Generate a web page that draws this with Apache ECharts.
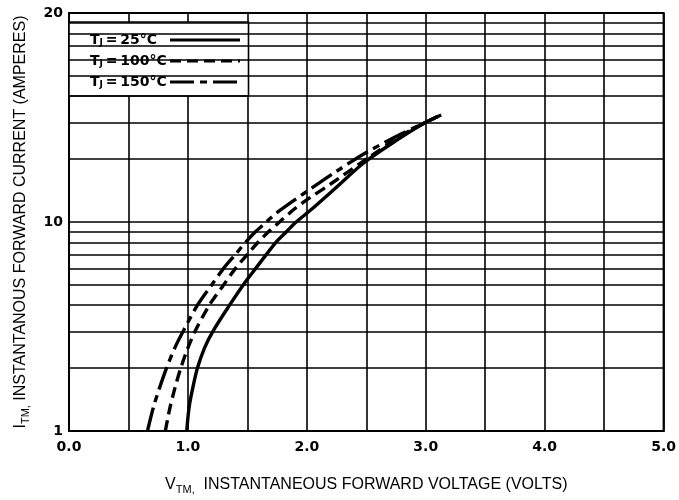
<!DOCTYPE html>
<html>
<head>
<meta charset="utf-8">
<script src="https://cdn.jsdelivr.net/npm/echarts@6/dist/echarts.min.js"></script>
<style>html,body{margin:0;padding:0;background:#fff}#c{width:679px;height:500px}</style>
</head>
<body>
<div id="c"></div>
<script>
// X tick labels (volts)
const xTickValues = [0, 1, 2, 3, 4, 5];
const xTickLabels = ['0.0', '1.0', '2.0', '3.0', '4.0', '5.0'];
// Y tick labels (amperes) as printed on the chart
const yTickValues = [1, 10, 100];
const yTickLabels = ['1', '10', '20'];
// minor log grid lines
const yMinorGrid = [2, 3, 4, 5, 6, 7, 8, 9, 20, 30, 40, 50, 60, 70, 80, 90];

// Series names
const seriesNames = ['{t|T}{s|J}{t|\u2009=\u200925°C}', '{t|T}{s|J}{t|\u2009=\u2009100°C}', '{t|T}{s|J}{t|\u2009=\u2009150°C}'];

// TJ = 25 C (solid)
const v25 = [0.99, 1.01, 1.04, 1.08, 1.14, 1.21, 1.35, 1.465, 1.57, 1.66, 1.74, 1.83, 1.91, 2.04, 2.24, 2.47, 2.75, 3.00, 3.13];
const i25 = [1, 1.3, 1.6, 2, 2.5, 3, 4, 5, 6, 7, 8, 9, 10, 11.5, 14.5, 19, 24.5, 30, 32.5];
// TJ = 100 C (dashed)
const v100 = [0.81, 0.85, 0.89, 0.94, 1.00, 1.06, 1.18, 1.30, 1.40, 1.50, 1.59, 1.68, 1.77, 1.90, 2.02, 2.20, 2.50, 2.80, 3.00, 3.10];
const i100 = [1, 1.3, 1.6, 2, 2.5, 3, 4, 5, 6, 7, 8, 9, 10, 11.6, 13.0, 15.2, 20, 26, 30, 32];
// TJ = 150 C (long-short dash)
const v150 = [0.66, 0.71, 0.76, 0.82, 0.89, 0.96, 1.08, 1.20, 1.30, 1.40, 1.485, 1.57, 1.66, 1.74, 2.00, 2.25, 2.50, 2.80, 3.00, 3.10];
const i150 = [1, 1.3, 1.6, 2, 2.5, 3, 4, 5, 6, 7, 8, 9, 10, 11, 14, 17.5, 21.5, 26.5, 30, 32];

const zip = (a, b) => a.map((v, k) => [v, b[k]]);

const chart = echarts.init(document.getElementById('c'), null, {renderer: 'canvas'});
const gridLine = {color: '#000', width: 1.6};
const curveStyle = (type) => ({color: '#000', width: 3.4, type: type, cap: 'butt'});
const legFont = {fontFamily: 'DejaVu Sans', fontWeight: 'bold', color: '#000', align: 'left'};

chart.setOption({
  animation: false,
  backgroundColor: '#fff',
  grid: {left: 69, right: 14, top: 13, bottom: 61, show: true, borderColor: '#000', borderWidth: 2, backgroundColor: 'transparent'},
  legend: {
    data: seriesNames,
    left: 69, top: 22,
    orient: 'vertical',
    align: 'right',
    itemWidth: 70, itemHeight: 14, itemGap: 7,
    padding: [11, 7, 7, 21],
    backgroundColor: '#fff',
    borderColor: '#000', borderWidth: 1.6,
    borderRadius: 0,
    selectedMode: false,
    itemStyle: {opacity: 0},
    lineStyle: {width: 3},
    textStyle: {
      fontFamily: 'DejaVu Sans', fontWeight: 'bold', fontSize: 14, color: '#000', width: 75, align: 'left',
      rich: {
        t: Object.assign({fontSize: 14}, legFont),
        s: Object.assign({fontSize: 9, verticalAlign: 'bottom', lineHeight: 10}, legFont)
      }
    }
  },
  xAxis: {
    type: 'value', min: 0, max: 5, interval: 0.5,
    name: '{a|V}{s|TM,}{a|  INSTANTANEOUS FORWARD VOLTAGE (VOLTS)}',
    nameLocation: 'middle', nameGap: 44,
    nameTextStyle: {
      rich: {
        a: {fontFamily: 'Liberation Sans', fontSize: 16, color: '#000', lineHeight: 20},
        s: {fontFamily: 'Liberation Sans', fontSize: 11, color: '#000', verticalAlign: 'bottom', lineHeight: 13}
      }
    },
    axisLine: {lineStyle: {color: '#000', width: 2}},
    axisTick: {show: false},
    splitLine: {show: true, lineStyle: gridLine},
    axisLabel: {
      fontFamily: 'DejaVu Sans', fontWeight: 'bold', fontSize: 14, color: '#000', margin: 9,
      formatter: v => { const k = xTickValues.indexOf(Math.round(v * 100) / 100); return k >= 0 ? xTickLabels[k] : ''; }
    }
  },
  yAxis: {
    type: 'log', logBase: 10, min: 1, max: 100,
    name: '{a|I}{s|TM,}{a| INSTANTANOUS FORWARD CURRENT (AMPERES)}',
    nameLocation: 'middle', nameGap: 38, nameRotate: 90,
    nameTextStyle: {
      rich: {
        a: {fontFamily: 'Liberation Sans', fontSize: 16, color: '#000', lineHeight: 20},
        s: {fontFamily: 'Liberation Sans', fontSize: 11, color: '#000', verticalAlign: 'bottom', lineHeight: 13}
      }
    },
    axisLine: {show: true, lineStyle: {color: '#000', width: 2}},
    axisTick: {show: false},
    splitLine: {show: true, lineStyle: gridLine},
    axisLabel: {
      fontFamily: 'DejaVu Sans', fontWeight: 'bold', fontSize: 14, color: '#000', margin: 6,
      formatter: v => { const k = yTickValues.findIndex(t => Math.abs(t - v) < 1e-6); return k >= 0 ? yTickLabels[k] : ''; }
    }
  },
  series: [
    {
      type: 'line', name: 'grid', data: [], z: 1, silent: true,
      markLine: {
        silent: true, symbol: 'none', animation: false,
        label: {show: false},
        lineStyle: {color: '#000', width: 1.6, type: 'solid'},
        data: yMinorGrid.map(v => ({yAxis: v}))
      }
    },
    {type: 'line', name: seriesNames[0], data: zip(v25, i25), smooth: 0.3, symbol: 'none', showSymbol: false, z: 3,
     lineStyle: curveStyle('solid'), itemStyle: {color: '#000'}},
    {type: 'line', name: seriesNames[1], data: zip(v100, i100), smooth: 0.3, symbol: 'none', showSymbol: false, z: 3,
     lineStyle: curveStyle([11, 6]), itemStyle: {color: '#000'}},
    {type: 'line', name: seriesNames[2], data: zip(v150, i150), smooth: 0.3, symbol: 'none', showSymbol: false, z: 3,
     lineStyle: curveStyle([24, 6, 7, 6]), itemStyle: {color: '#000'}}
  ]
});
</script>
</body>
</html>
